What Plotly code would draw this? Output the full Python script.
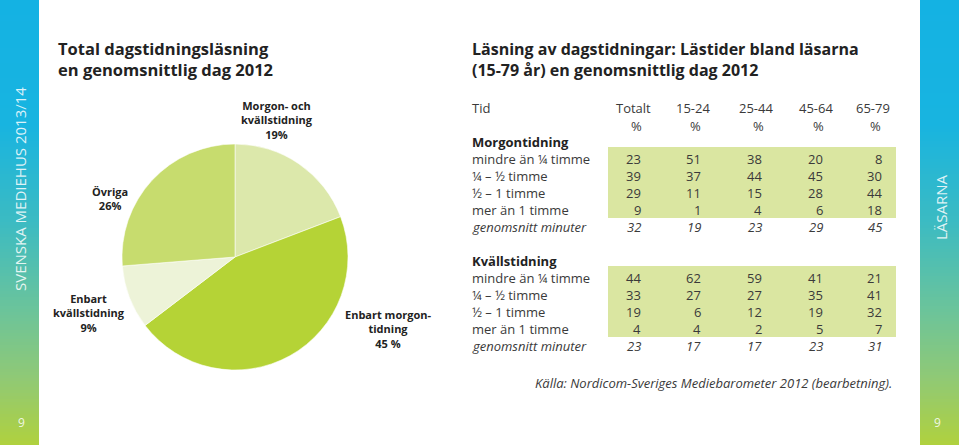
import plotly.graph_objects as go

# ---------------- data ----------------
pie_labels = ["Morgon- och<br>kvällstidning", "Enbart morgon-<br>tidning", "Enbart<br>kvällstidning", "Övriga"]
pie_values = [19, 45, 9, 26]
pie_value_text = ["19%", "45 %", "9%", "26%"]
pie_colors = ["#dce8ab", "#b5d336", "#edf3d8", "#c7dc6e"]

col_headers = ["Totalt", "15-24", "25-44", "45-64", "65-79"]
row_labels = ["mindre än ¼ timme", "¼ – ½ timme", "½ – 1 timme", "mer än 1 timme"]
avg_label = "genomsnitt minuter"

morgon_values = [
    [23, 51, 38, 20, 8],
    [39, 37, 44, 45, 30],
    [29, 11, 15, 28, 44],
    [9, 1, 4, 6, 18],
]
morgon_avg = [32, 19, 23, 29, 45]

kvall_values = [
    [44, 62, 59, 41, 21],
    [33, 27, 27, 35, 41],
    [19, 6, 12, 19, 32],
    [4, 4, 2, 5, 7],
]
kvall_avg = [23, 17, 17, 23, 31]

# ---------------- layout helpers (pixel coordinates) ----------------
W, H = 959, 445
FONT = "Open Sans"
TXT = "#3a3a3a"
DARK = "#222222"

fig = go.Figure()

# pie
cx, cy, r = 235, 257, 113
fig.add_trace(go.Pie(
    labels=[l.replace("<br>", " ") for l in pie_labels], values=pie_values,
    sort=False, direction="clockwise", rotation=0,
    marker=dict(colors=pie_colors, line=dict(width=0.8, color="rgba(255,255,255,0.7)")),
    textinfo="none", hoverinfo="label+percent", showlegend=False,
    domain=dict(x=[(cx - r) / W, (cx + r) / W], y=[(H - cy - r) / H, (H - cy + r) / H]),
))

# invisible pixel axes for placing text & table
fig.add_trace(go.Scatter(x=[0, W], y=[0, H], mode="markers", marker=dict(opacity=0),
                         hoverinfo="skip", showlegend=False))
fig.update_xaxes(range=[0, W], visible=False, fixedrange=True)
fig.update_yaxes(range=[H, 0], visible=False, fixedrange=True)

shapes = []
ann = []

def text(x, y, s, size=13, color=TXT, xanchor="left", bold=False, italic=False, angle=0, family=FONT):
    if bold:
        s = "<b>" + s + "</b>"
    if italic:
        s = "<i>" + s + "</i>"
    ann.append(dict(x=x, y=y, xref="x", yref="y", text=s, showarrow=False,
                    xanchor=xanchor, yanchor="middle", textangle=angle, align="left",
                    font=dict(family=family, size=size, color=color)))

# gradient side bars
def lerp(c1, c2, t):
    a = [int(c1[i:i + 2], 16) for i in (1, 3, 5)]
    b = [int(c2[i:i + 2], 16) for i in (1, 3, 5)]
    return "rgb(%d,%d,%d)" % tuple(round(a[k] + (b[k] - a[k]) * t) for k in range(3))

stops = [(0.0, "#14b2e3"), (0.28, "#18b4e0"), (0.5, "#3cbbc2"), (0.7, "#6cc49a"),
         (0.85, "#90c975"), (1.0, "#b0d13e")]

def grad(y):
    t = y / H
    for i in range(len(stops) - 1):
        t0, c0 = stops[i]
        t1, c1 = stops[i + 1]
        if t0 <= t <= t1:
            return lerp(c0, c1, (t - t0) / (t1 - t0))
    return stops[-1][1]

step = 3
for x0, x1 in [(0, 39), (920, W)]:
    y = 0
    while y < H:
        shapes.append(dict(type="rect", xref="x", yref="y", x0=x0, x1=x1, y0=y, y1=min(H, y + step + 0.6),
                           fillcolor=grad(y + step / 2), line=dict(width=0), layer="below"))
        y += step

text(20, 189, "SVENSKA MEDIEHUS 2013/14", size=15, color="rgba(255,255,255,0.85)", xanchor="center", angle=-90)
text(941, 207, "LÄSARNA", size=15, color="rgba(255,255,255,0.85)", xanchor="center", angle=-90)
text(21, 422, "9", size=12, color="rgba(255,255,255,0.85)", xanchor="center")
text(937, 422, "9", size=12, color="rgba(255,255,255,0.85)", xanchor="center")

# titles (two lines each, one text block)
text(56, 59, "Total dagstidningsläsning<br>en genomsnittlig dag 2012", size=16.5, color=DARK, bold=True)
text(470, 59, "Läsning av dagstidningar: Lästider bland läsarna<br>(15-79 år) en genomsnittlig dag 2012",
     size=16, color=DARK, bold=True)

# pie labels
pie_label_pos = [(277, 120), (388, 329), (89, 313), (110, 198)]
for lab, vt, (px, py) in zip(pie_labels, pie_value_text, pie_label_pos):
    ann.append(dict(x=px, y=py, xref="x", yref="y", text="<b>" + lab + "<br>" + vt + "</b>",
                    showarrow=False, xanchor="center", yanchor="middle", align="center",
                    font=dict(family=FONT, size=11, color=DARK)))

# table
col_right = [643, 703, 764, 825, 884]
head_right = [653, 712, 775, 835, 892]
text(470, 108, "Tid", size=13)
for h, xr in zip(col_headers, head_right):
    text(xr, 108, h, size=13, xanchor="right")
    text(xr - 17, 126, "%", size=13, xanchor="center")

def block(title, y_title, values, avgs):
    text(470, y_title, title, size=13, color=DARK, bold=True)
    y0 = y_title + 17
    shapes.append(dict(type="rect", xref="x", yref="y", x0=608, x1=896,
                       y0=y0 - 12, y1=y0 + 17 * (len(values) - 1) + 8,
                       fillcolor="#dae6a1", line=dict(width=0), layer="below"))
    for i, (lab, row) in enumerate(zip(row_labels, values)):
        yy = y0 + 17 * i
        text(470, yy, lab, size=13)
        for v, xr in zip(row, col_right):
            text(xr, yy, str(v), size=13, xanchor="right")
    yy = y0 + 17 * len(values)
    text(470, yy, avg_label, size=13, italic=True)
    for v, xr in zip(avgs, col_right):
        text(xr, yy, str(v), size=13, xanchor="right", italic=True)

block("Morgontidning", 142, morgon_values, morgon_avg)
block("Kvällstidning", 261, kvall_values, kvall_avg)

text(894, 383, "Källa: Nordicom-Sveriges Mediebarometer 2012 (bearbetning).", size=13, italic=True, xanchor="right")

fig.update_layout(
    width=W, height=H, autosize=False,
    margin=dict(l=0, r=0, t=0, b=0),
    paper_bgcolor="white", plot_bgcolor="white",
    shapes=shapes, annotations=ann, showlegend=False,
)

fig.write_html("out.html", config={"displayModeBar": False},
               post_script="document.body.style.margin='0';document.body.style.overflow='hidden';")
